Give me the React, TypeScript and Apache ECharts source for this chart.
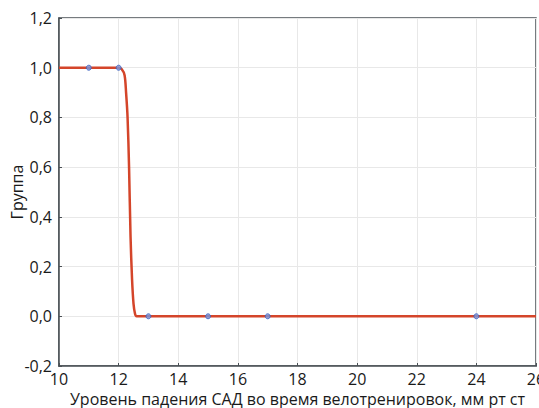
import React, { useEffect, useRef } from "react";
import * as echarts from "echarts";

const curveX = [10, 11, 12, 12.1, 12.2, 12.25, 12.3, 12.35, 12.4, 12.45, 12.5, 12.55, 12.6, 13, 14, 16, 18, 20, 22, 24, 26];
const curveY = [1, 1, 1, 0.995, 0.97, 0.9, 0.8, 0.6, 0.32, 0.15, 0.05, 0.01, 0.0, 0, 0, 0, 0, 0, 0, 0, 0];
const pointX = [11, 12, 13, 15, 17, 24];
const pointY = [1, 1, 0, 0, 0, 0];
const xTitle = "Уровень падения САД во время велотренировок, мм рт ст";
const yTitle = "Группа";

export default function App() {
  const ref = useRef<HTMLDivElement>(null);
  useEffect(() => {
    const chart = echarts.init(ref.current!, undefined, { renderer: "svg" });
    const font = "'Open Sans', 'Noto Sans', sans-serif";
    const axisCol = "#4a5055";
    chart.setOption({
      animation: false,
      textStyle: { fontFamily: font },
      grid: {
        left: 59, right: 3, top: 18, bottom: 42, show: true,
        borderColor: axisCol, borderWidth: 1.5, backgroundColor: "transparent",
        containLabel: false, outerBoundsMode: "none",
      },
      xAxis: {
        type: "value", min: 10, max: 26, interval: 2,
        name: xTitle, nameLocation: "middle", nameGap: 24, nameMoveOverlap: false,
        nameTextStyle: { fontSize: 16, color: "#1a1a1a", fontFamily: font, verticalAlign: "top", lineHeight: 17 },
        axisLine: { onZero: false, lineStyle: { color: axisCol, width: 1.5 } },
        axisTick: { inside: true, length: 3, lineStyle: { color: axisCol } },
        axisLabel: { fontSize: 16, color: "#1a1a1a", margin: 6, fontFamily: font, lineHeight: 14 },
        splitLine: { show: true, lineStyle: { color: "#e8e8e8", width: 1 } },
      },
      yAxis: {
        type: "value", min: -0.2, max: 1.2, interval: 0.2,
        name: yTitle, nameLocation: "middle", nameGap: 34, nameMoveOverlap: false,
        nameTextStyle: { fontSize: 16, color: "#1a1a1a", fontFamily: font },
        axisLine: { show: true, onZero: false, lineStyle: { color: axisCol, width: 1.5 } },
        axisTick: { show: true, inside: true, length: 3, lineStyle: { color: axisCol } },
        axisLabel: {
          fontSize: 16, color: "#1a1a1a", margin: 7, fontFamily: font,
          formatter: (v: number) => (Math.round(v * 10) / 10).toFixed(1).replace(".", ","),
        },
        splitLine: { show: true, lineStyle: { color: "#e8e8e8", width: 1 } },
      },
      series: [
        {
          type: "line",
          data: curveX.map((x, i) => [x, curveY[i]]),
          showSymbol: false,
          smooth: 0.3,
          lineStyle: { color: "#d4452a", width: 2.5 },
          z: 2,
        },
        {
          type: "scatter",
          data: pointX.map((x, i) => [x, pointY[i]]),
          symbol: "circle",
          symbolSize: 5,
          itemStyle: { color: "#7a97dc", borderColor: "#3a60bf", borderWidth: 1 },
          z: 3,
        },
      ],
    });
    return () => chart.dispose();
  }, []);
  return <div ref={ref} style={{ width: 539, height: 408, position: "absolute", left: 0, top: 0 }} />;
}
